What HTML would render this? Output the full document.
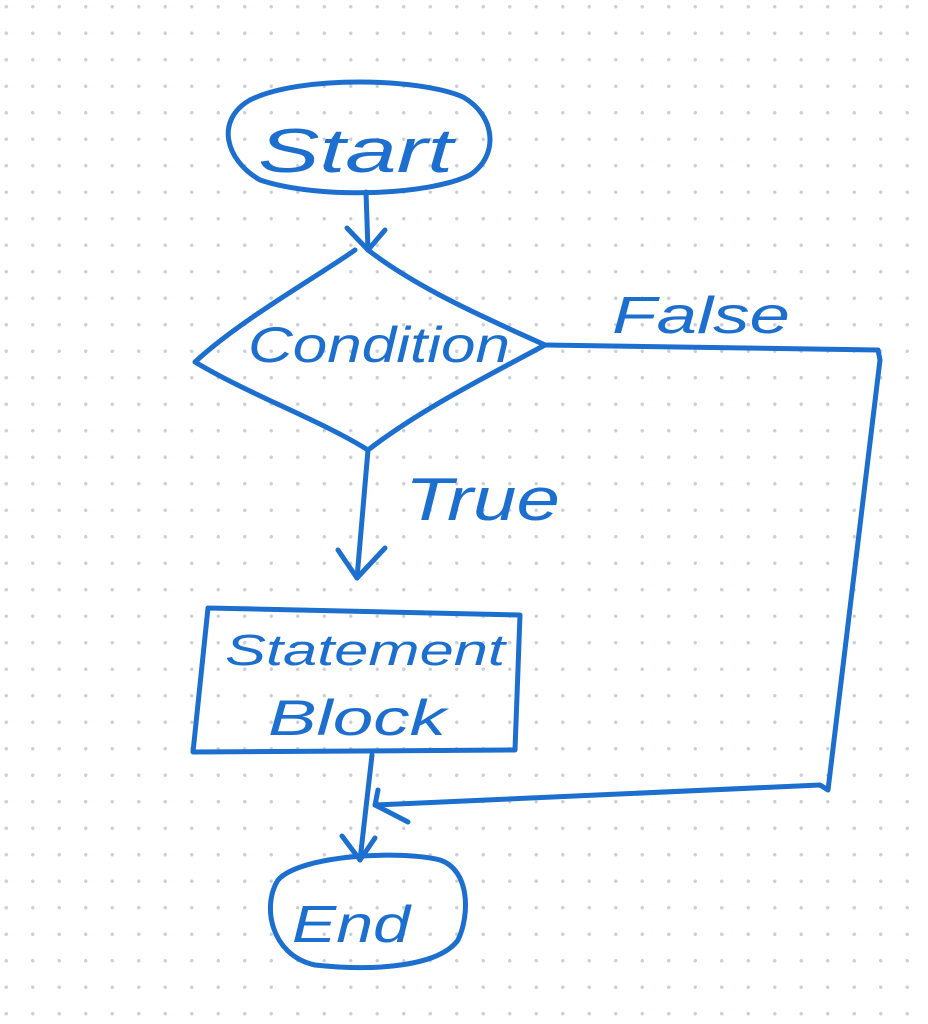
<!DOCTYPE html>
<html><head><style>
html,body{margin:0;padding:0;background:#fff;}
svg{display:block}
</style></head><body>
<svg width="928" height="1024" viewBox="0 0 928 1024" xmlns="http://www.w3.org/2000/svg">
<defs>
<pattern id="dots" x="-7" y="-6.5" width="26.5" height="26.5" patternUnits="userSpaceOnUse">
<circle cx="13.25" cy="13.25" r="1.7" fill="#c9cfd9"/>
</pattern>
</defs>
<rect width="928" height="1024" fill="#fff"/>
<rect width="928" height="1024" fill="url(#dots)"/>
<g fill="none" stroke="#1c6fcf" stroke-width="5" stroke-linecap="round" stroke-linejoin="round">
<path d="M463 97 C420 78 300 75 250 100 C215 120 225 160 260 180 C320 200 430 195 470 175 C500 155 495 115 463 97"/>
<path d="M366 192 L368 250"/>
<path d="M347 228 L368 250 L385 230"/>
<path d="M355 250 C320 275 240 320 195 362 C250 395 320 420 368 450 C420 410 480 380 545 345 C490 320 420 290 368 250"/>
<path d="M545 345 L878 350 L880 360 L828 790 L820 785 L375 805"/>
<path d="M378 790 L375 805 L408 822"/>
<path d="M368 450 L357 578"/>
<path d="M338 550 L357 578 L385 548"/>
<path d="M208 608 L520 615 L515 750 L193 752 L208 608"/>
<path d="M372 755 L360 860"/>
<path d="M342 836 L360 860 L375 838"/>
<path d="M440 860 C400 850 300 855 278 880 C262 905 270 955 315 965 C380 972 440 965 458 940 C470 915 470 870 440 860"/>
</g>
<g fill="#1c6fcf" font-family="'Liberation Sans',sans-serif" font-style="italic">
<text x="258" y="172" font-size="62" textLength="195" lengthAdjust="spacingAndGlyphs">Start</text>
<text x="248" y="362" font-size="50" textLength="262" lengthAdjust="spacingAndGlyphs">Condition</text>
<text x="612" y="333" font-size="52" textLength="178" lengthAdjust="spacingAndGlyphs">False</text>
<text x="405" y="520" font-size="60" textLength="155" lengthAdjust="spacingAndGlyphs">True</text>
<text x="225" y="665" font-size="44" textLength="280" lengthAdjust="spacingAndGlyphs">Statement</text>
<text x="268" y="735" font-size="50" textLength="178" lengthAdjust="spacingAndGlyphs">Block</text>
<text x="292" y="942" font-size="52" textLength="118" lengthAdjust="spacingAndGlyphs">End</text>
</g>
</svg>
</body></html>
